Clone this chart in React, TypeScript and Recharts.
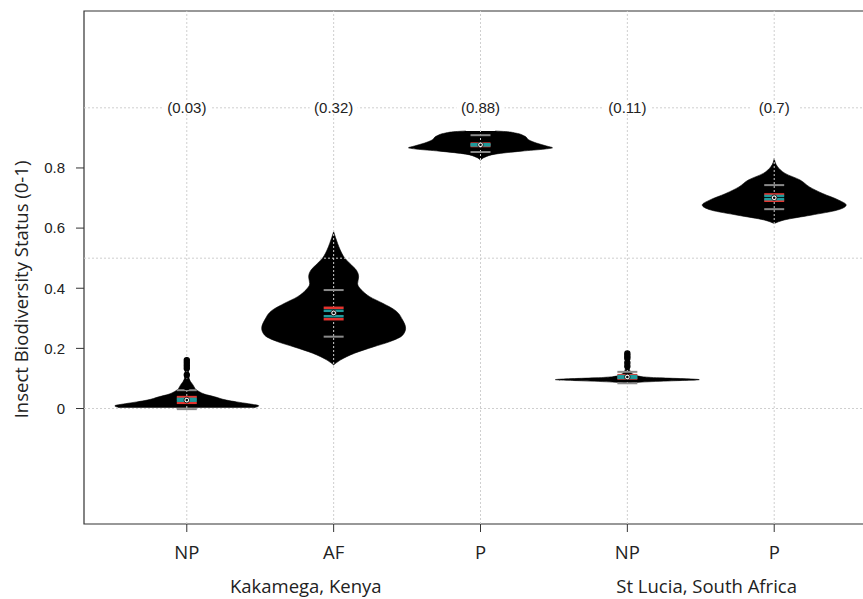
import React from "react";
import {
  ComposedChart,
  Area,
  XAxis,
  YAxis,
  ReferenceLine,
  ReferenceArea,
  Scatter,
  Label,
} from "recharts";

// ---------- data ----------
const categories = ["NP", "AF", "P", "NP", "P"];
const categoryPositions = [1, 2, 3, 4, 5];
const groupNames = ["Kakamega, Kenya", "St Lucia, South Africa"];
const groupPositions = [1.81, 4.54];
const meanLabels = ["(0.03)", "(0.32)", "(0.88)", "(0.11)", "(0.7)"];
const labelLevel = 1.0;
const yTicks = [0, 0.2, 0.4, 0.6, 0.8];
const gridY = [0, 0.5, 1];

const means = [0.028, 0.318, 0.877, 0.105, 0.701];
const whiskerLow = [-0.002, 0.239, 0.853, 0.084, 0.663];
const whiskerHigh = [0.061, 0.394, 0.909, 0.122, 0.743];
const redLow = [0.019, 0.297, 0.873, 0.1, 0.691];
const redHigh = [0.038, 0.335, 0.881, 0.111, 0.712];
const tealLow = [0.026, 0.307, 0.875, 0.102, 0.696];
const tealHigh = [0.032, 0.325, 0.879, 0.108, 0.707];

// violin profiles: [value, half-width]
const violinNPKakamega: [number, number][] = [
  [0.003, 0.46], [0.009, 0.49], [0.016, 0.42], [0.022, 0.34], [0.028, 0.27],
  [0.039, 0.19], [0.048, 0.12], [0.056, 0.085], [0.064, 0.06], [0.072, 0.05],
  [0.08, 0.04], [0.09, 0.025], [0.1, 0.016], [0.128, 0.011], [0.16, 0.004], [0.166, 0],
];
const violinAF: [number, number][] = [
  [0.145, 0.0], [0.161, 0.045], [0.184, 0.143], [0.205, 0.27], [0.222, 0.38],
  [0.244, 0.47], [0.267, 0.49], [0.294, 0.47], [0.328, 0.415], [0.35, 0.334],
  [0.372, 0.245], [0.394, 0.19], [0.415, 0.163], [0.438, 0.17], [0.46, 0.155],
  [0.483, 0.109], [0.501, 0.075], [0.527, 0.045], [0.549, 0.027], [0.588, 0],
];
const violinPKakamega: [number, number][] = [
  [0.826, 0], [0.836, 0.03], [0.846, 0.1], [0.856, 0.28], [0.863, 0.44],
  [0.867, 0.49], [0.873, 0.45], [0.883, 0.38], [0.893, 0.33], [0.906, 0.3],
  [0.916, 0.24], [0.921, 0.17], [0.923, 0.1],
];
const violinNPStLucia: [number, number][] = [
  [0.083, 0], [0.088, 0.1], [0.092, 0.3], [0.096, 0.49], [0.099, 0.4],
  [0.102, 0.22], [0.106, 0.1], [0.112, 0.05], [0.12, 0.025], [0.135, 0.012],
  [0.16, 0.006], [0.185, 0],
];
const violinPStLucia: [number, number][] = [
  [0.615, 0], [0.627, 0.068], [0.643, 0.25], [0.66, 0.43], [0.677, 0.49],
  [0.693, 0.44], [0.715, 0.33], [0.737, 0.24], [0.76, 0.176], [0.782, 0.074],
  [0.804, 0.023], [0.832, 0],
];

const outliersNPKakamega = [0.072, 0.089, 0.112, 0.134, 0.143, 0.152, 0.161];
const outliersNPStLucia = [0.141, 0.152, 0.167, 0.175, 0.183];

// ---------- chart setup ----------
const X_MIN = 0.3;
const X_MAX = 5.7;
const Y_MIN = -0.384;
const Y_MAX = 1.322;
const MARK_HW = 0.068;

const violins = [violinNPKakamega, violinAF, violinPKakamega, violinNPStLucia, violinPStLucia];
const violinData = violins.map((prof, i) =>
  prof.map(([y, w]) => ({
    y,
    x: categoryPositions[i],
    range: [categoryPositions[i] - w, categoryPositions[i] + w],
  }))
);

const outlierData = [
  ...outliersNPKakamega.map((y) => ({ x: categoryPositions[0], y })),
  ...outliersNPStLucia.map((y) => ({ x: categoryPositions[3], y })),
];
const meanData = means.map((y, i) => ({ x: categoryPositions[i], y }));
const labelData = meanLabels.map((label, i) => ({ x: categoryPositions[i], y: labelLevel, label }));

const GRID = "#cfcfcf";
const GRAY = "#8a8a8a";
const RED = "#e3342f";
const TEAL = "#1f9a9b";
const TEXT = "#222";

const seg = (c: number, v: number) => [
  { x: c - MARK_HW, y: v },
  { x: c + MARK_HW, y: v },
];

const YTitle = (props: any) => {
  const vb = props.viewBox || { x: 0, y: 0, width: 0, height: 0 };
  const cx = vb.x + 20;
  const cy = vb.y + vb.height / 2 + 22;
  return (
    <text
      x={cx}
      y={cy}
      transform={`rotate(-90, ${cx}, ${cy})`}
      textAnchor="middle"
      dominantBaseline="central"
      fontFamily="Open Sans"
      fontSize={18.5}
      fill={TEXT}
    >
      Insect Biodiversity Status (0-1)
    </text>
  );
};

export default function App() {
  return (
    <div
      style={{
        position: "absolute",
        left: 0,
        top: 0,
        width: 863,
        height: 599,
        overflow: "hidden",
        background: "#fff",
      }}
    >
      <ComposedChart
        width={880}
        height={599}
        layout="vertical"
        margin={{ top: 11, right: 3, bottom: 0, left: 0 }}
      >
        <XAxis
          type="number"
          dataKey="x"
          domain={[X_MIN, X_MAX]}
          allowDataOverflow
          ticks={categoryPositions}
          interval={0}
          height={40}
          axisLine={false}
          tickSize={8}
          tickMargin={14}
          tickLine={{ stroke: "#333" }}
          tick={{ fontSize: 18.5, fill: TEXT, fontFamily: "Open Sans" }}
          tickFormatter={(v: number) => categories[categoryPositions.indexOf(v)] ?? ""}
        />
        <XAxis
          xAxisId="grp"
          type="number"
          dataKey="x"
          domain={[X_MIN, X_MAX]}
          allowDataOverflow
          ticks={groupPositions}
          interval={0}
          height={35}
          axisLine={false}
          tickLine={false}
          tickSize={0}
          tickMargin={16}
          tick={{ fontSize: 18.5, fill: TEXT, fontFamily: "Open Sans" }}
          tickFormatter={(v: number) => groupNames[groupPositions.indexOf(v)] ?? ""}
        />
        <YAxis
          type="number"
          dataKey="y"
          domain={[Y_MIN, Y_MAX]}
          allowDataOverflow
          reversed
          ticks={yTicks}
          interval={0}
          width={84}
          axisLine={false}
          tickSize={8}
          tickMargin={11}
          tickLine={{ stroke: "#333" }}
          tick={{ fontSize: 15, fill: TEXT, fontFamily: "Liberation Sans" }}
        >
          <Label content={<YTitle />} />
        </YAxis>

        {violinData.map((d, i) => (
          <Area
            key={`v${i}`}
            data={d}
            dataKey="range"
            type="monotone"
            fill="#000"
            fillOpacity={1}
            stroke="#000"
            strokeWidth={0.6}
            dot={false}
            activeDot={false}
            isAnimationActive={false}
          />
        ))}

        {gridY.map((v) => (
          <ReferenceLine key={`gy${v}`} y={v} stroke={GRID} strokeDasharray="2 2" strokeWidth={1} />
        ))}
        {categoryPositions.map((v) => (
          <ReferenceLine key={`gx${v}`} x={v} stroke={GRID} strokeDasharray="2 2" strokeWidth={1} />
        ))}

        {categoryPositions.map((c, i) => (
          <ReferenceLine key={`wl${i}`} segment={seg(c, whiskerLow[i])} stroke={GRAY} strokeWidth={2} ifOverflow="visible" />
        ))}
        {categoryPositions.map((c, i) => (
          <ReferenceLine key={`wh${i}`} segment={seg(c, whiskerHigh[i])} stroke={GRAY} strokeWidth={2} ifOverflow="visible" />
        ))}
        {categoryPositions.map((c, i) => (
          <ReferenceLine key={`rl${i}`} segment={seg(c, redLow[i])} stroke={RED} strokeWidth={2.5} ifOverflow="visible" />
        ))}
        {categoryPositions.map((c, i) => (
          <ReferenceLine key={`rh${i}`} segment={seg(c, redHigh[i])} stroke={RED} strokeWidth={2.5} ifOverflow="visible" />
        ))}
        {categoryPositions.map((c, i) => (
          <ReferenceLine key={`tl${i}`} segment={seg(c, tealLow[i])} stroke={TEAL} strokeWidth={2.5} ifOverflow="visible" />
        ))}
        {categoryPositions.map((c, i) => (
          <ReferenceLine key={`th${i}`} segment={seg(c, tealHigh[i])} stroke={TEAL} strokeWidth={2.5} ifOverflow="visible" />
        ))}

        <ReferenceArea
          x1={X_MIN}
          x2={X_MAX}
          y1={Y_MIN}
          y2={Y_MAX}
          fill="none"
          fillOpacity={0}
          stroke="#333"
          strokeWidth={1.2}
          ifOverflow="visible"
        />

        <Scatter
          data={outlierData}
          isAnimationActive={false}
          shape={(p: any) => (
            <circle cx={p.cx} cy={p.cy} r={2.6} fill="#000" stroke="#000" strokeWidth={1.2} />
          )}
        />
        <Scatter
          data={meanData}
          isAnimationActive={false}
          shape={(p: any) => (
            <g>
              <circle cx={p.cx} cy={p.cy} r={2.8} fill="#fff" stroke="#000" strokeWidth={0.8} />
              <circle cx={p.cx} cy={p.cy} r={1.3} fill="#000" />
            </g>
          )}
        />
        <Scatter
          data={labelData}
          isAnimationActive={false}
          shape={(p: any) => (
            <g>
              <rect x={p.cx - 24} y={p.cy - 6} width={48} height={12} fill="#fff" />
              <text
                x={p.cx}
                y={p.cy}
                textAnchor="middle"
                dominantBaseline="central"
                fontFamily="Liberation Sans"
                fontSize={15}
                fill={TEXT}
              >
                {p.payload.label}
              </text>
            </g>
          )}
        />
      </ComposedChart>
    </div>
  );
}
